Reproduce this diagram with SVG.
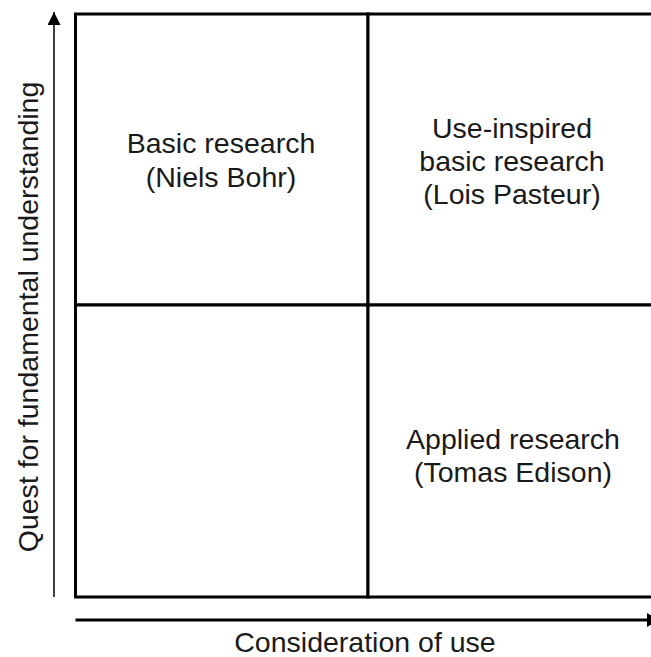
<svg xmlns="http://www.w3.org/2000/svg" width="651" height="657" viewBox="0 0 651 657">
  <style>
    .cell { fill: #ffffff; stroke: #000000; stroke-width: 3; }
    .lbl { font-family: "Liberation Sans", Arial, sans-serif; font-size: 28.5px; fill: #1a1a1a; text-anchor: middle; }
    .axis { stroke: #000000; fill: none; }
  </style>
  <defs>
    <marker id="arrowUp" viewBox="0 0 12 13" refX="13" refY="6.5" markerWidth="13" markerHeight="13" markerUnits="userSpaceOnUse" orient="auto">
      <path d="M0,0 L13,6.5 L0,13 Z" fill="#000000"/>
    </marker>
    <marker id="arrowRight" viewBox="0 0 12 14" refX="12" refY="7" markerWidth="12" markerHeight="14" markerUnits="userSpaceOnUse" orient="auto">
      <path d="M0,0 L12,7 L0,14 Z" fill="#000000"/>
    </marker>
  </defs>
  <rect width="651" height="657" fill="#ffffff"/>

  <!-- 2x2 quadrant grid -->
  <g id="basic-research">
    <rect class="cell" x="75.5" y="14" width="292.5" height="291"/>
    <text class="lbl" x="221" y="153">Basic research</text>
    <text class="lbl" x="221" y="187">(Niels Bohr)</text>
  </g>
  <g id="use-inspired-research">
    <rect class="cell" x="368" y="14" width="300" height="291"/>
    <text class="lbl" x="512" y="138">Use-inspired</text>
    <text class="lbl" x="512" y="171">basic research</text>
    <text class="lbl" x="512" y="204">(Lois Pasteur)</text>
  </g>
  <g id="empty-quadrant">
    <rect class="cell" x="75.5" y="305" width="292.5" height="292"/>
  </g>
  <g id="applied-research">
    <rect class="cell" x="368" y="305" width="300" height="292"/>
    <text class="lbl" x="513" y="449">Applied research</text>
    <text class="lbl" x="513" y="482">(Tomas Edison)</text>
  </g>

  <!-- axes -->
  <g id="connectors">
    <line class="axis" x1="54" y1="597" x2="54" y2="12" stroke-width="1.5" marker-end="url(#arrowUp)"/>
    <line class="axis" x1="75.5" y1="620" x2="659" y2="620" stroke-width="3" marker-end="url(#arrowRight)"/>
  </g>

  <g id="axis-labels">
    <text class="lbl" x="365" y="652">Consideration of use</text>
    <text class="lbl" transform="translate(38 317) rotate(-90)">Quest for fundamental understanding</text>
  </g>
</svg>
